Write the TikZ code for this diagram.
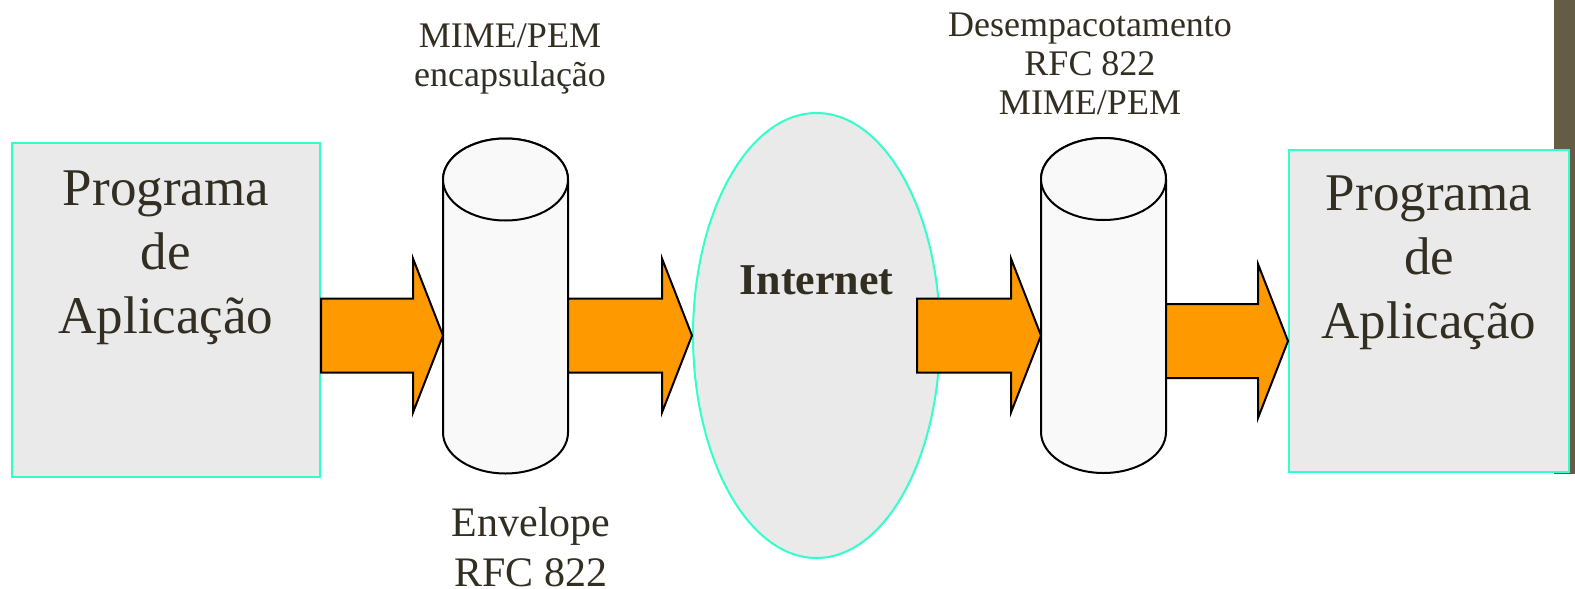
\documentclass[tikz,border=0pt]{standalone}
\usepackage{fontspec}
\setmainfont{Liberation Serif}
\usetikzlibrary{shapes.geometric,calc}

\definecolor{txtcol}{RGB}{51,46,34}
\definecolor{aqua}{RGB}{51,255,204}
\definecolor{boxgray}{RGB}{234,234,234}
\definecolor{cylwhite}{RGB}{249,249,249}
\definecolor{orange}{RGB}{255,153,0}
\definecolor{barcol}{RGB}{101,92,69}

% fat arrow from tail to tip
\newcommand{\fatarrow}[2]{%
  \filldraw[fat] ($(#1)+(0,-37)$) -- ($(#2)+(-30,-37)$) -- ($(#2)+(-30,-77)$) -- (#2)
    -- ($(#2)+(-30,77)$) -- ($(#2)+(-30,37)$) -- ($(#1)+(0,37)$) -- cycle;}
% cylinder drawn round a rectangle node
\newcommand{\envcylinder}[1]{%
  \filldraw[cyl] (#1.north west) -- (#1.south west) arc[start angle=180,end angle=360,x radius=31.25pt,y radius=20.5pt]
    -- (#1.north east) arc[start angle=0,end angle=180,x radius=31.25pt,y radius=20.5pt] -- cycle;
  \draw[cyl] (#1.north) ellipse[x radius=31.25pt,y radius=20.5pt];}

\begin{document}
\begin{tikzpicture}[x=0.5pt,y=-0.5pt,
  progbox/.style={draw=aqua,fill=boxgray,line width=1pt,inner sep=0pt},
  bigtxt/.style={text=txtcol,align=center,inner sep=0pt,anchor=north,font=\fontsize{26.5}{32}\selectfont},
  smalltxt/.style={text=txtcol,align=center,inner sep=0pt,anchor=north,font=\fontsize{18}{19.5}\selectfont},
  envcyl/.style={rectangle,minimum width=62.5pt,minimum height=126.5pt,inner sep=0pt,outer sep=0pt},
  cyl/.style={draw=black,fill=cylwhite,line width=1pt},
  fat/.style={fill=orange,draw=black,line width=1pt,line join=miter}]
\useasboundingbox (0,0) rectangle (1575,589);
\fill[barcol] (1554,0) rectangle (1575,474);

\node[progbox,minimum width=154pt,minimum height=167pt] (prog1) at (166,310) {};
\node[progbox,minimum width=140pt,minimum height=161pt] (prog2) at (1429,311) {};
\node[bigtxt] (prog1txt) at (166,170) {Programa\\de\\Aplicação};
\node[bigtxt] (prog2txt) at (1429,175) {Programa\\de\\Aplicação};

\node[ellipse,draw=aqua,fill=boxgray,line width=1pt,minimum width=123.5pt,minimum height=222.5pt,inner sep=0pt] (internet) at (816.5,335.5) {};
\node[text=txtcol,inner sep=0pt,anchor=north,font=\fontsize{22}{26}\selectfont\bfseries] (internettxt) at (816.5,265) {Internet};

\node[envcyl] (env1) at (505.5,306) {};
\node[envcyl] (env2) at (1103.5,305.5) {};
\envcylinder{env1}
\envcylinder{env2}

\coordinate (tip1) at (env1.west |- 0,335.5);
\coordinate (tip3) at (env2.west |- 0,335.5);
\coordinate (tail3) at ($(internet.east)+(-24,0)$);
\coordinate (tip4) at (prog2.west |- 0,341);

\fatarrow{prog1.east |- tip1}{tip1}
\fatarrow{env1.east |- internet.west}{internet.west}
\fatarrow{tail3}{tip3}
\fatarrow{env2.east |- tip4}{tip4}

\node[smalltxt] (enctxt) at (510,23) {MIME/PEM\\encapsulação};
\node[smalltxt] (desctxt) at (1090,13) {Desempacotamento\\RFC 822\\MIME/PEM};
\node[smalltxt,font=\fontsize{21}{25}\selectfont] (envtxt) at (531,507) {Envelope\\RFC 822};
\end{tikzpicture}
\end{document}
